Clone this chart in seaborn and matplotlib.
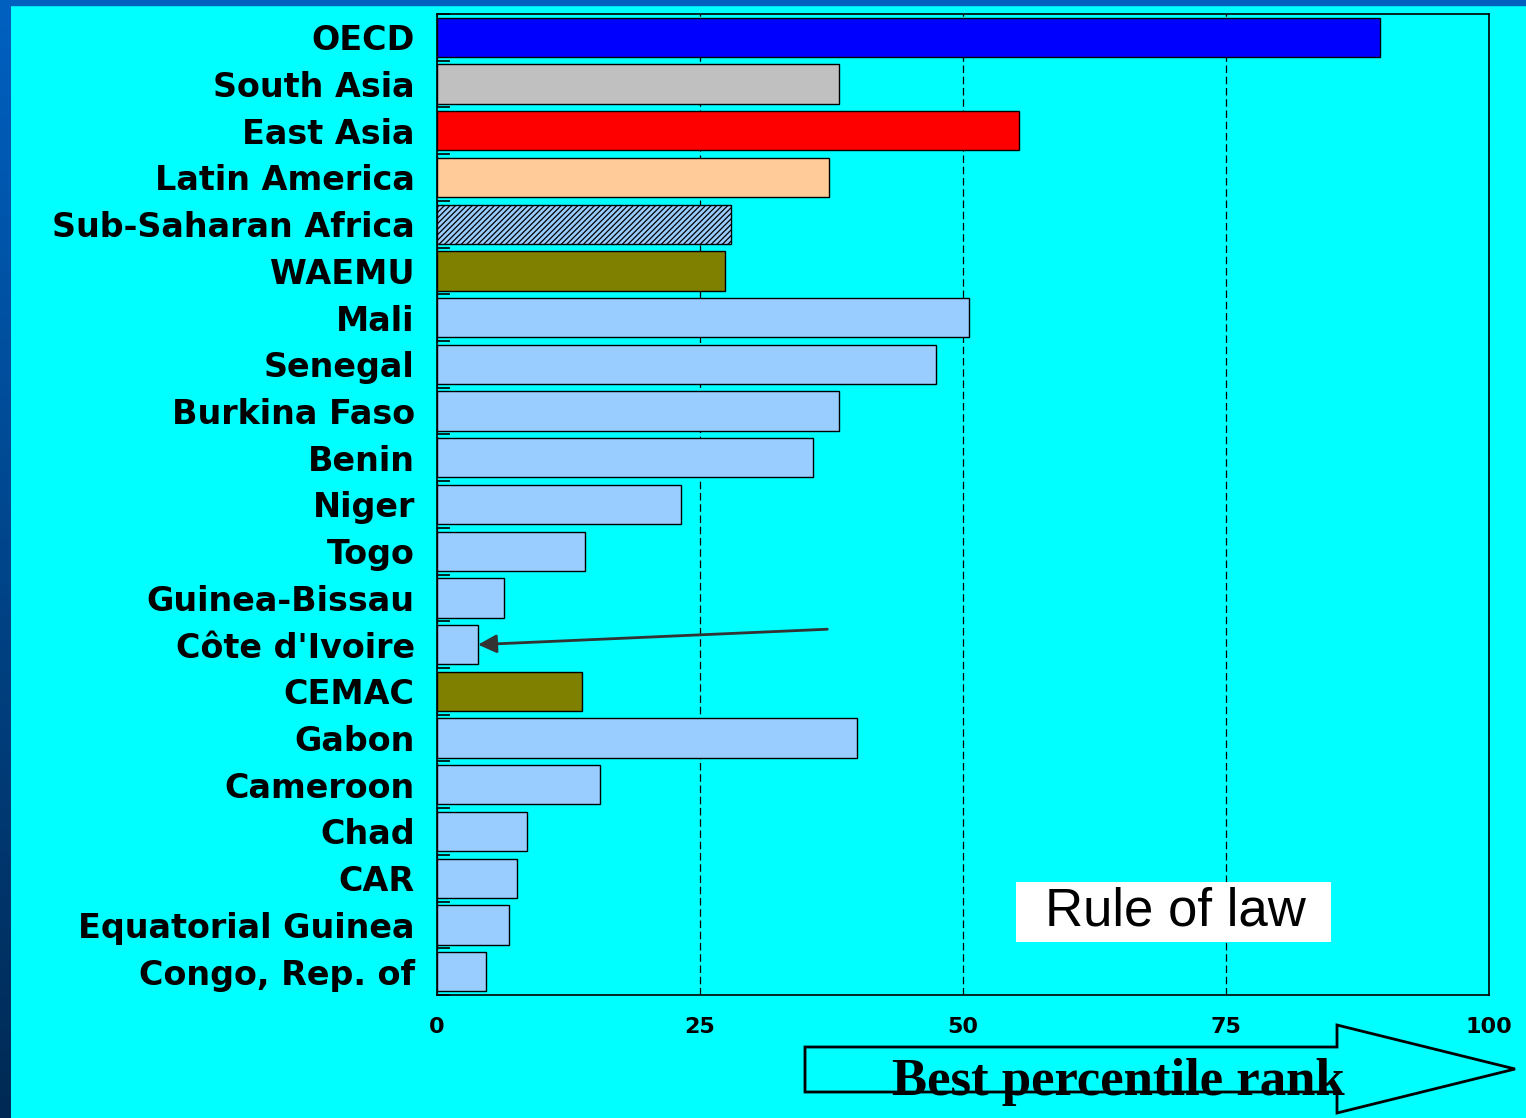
import numpy as np
import pandas as pd
import seaborn as sns
import matplotlib.pyplot as plt
from matplotlib.patches import Polygon, Rectangle

categories = ["OECD", "South Asia", "East Asia", "Latin America", "Sub-Saharan Africa",
              "WAEMU", "Mali", "Senegal", "Burkina Faso", "Benin", "Niger", "Togo",
              "Guinea-Bissau", "Côte d'Ivoire", "CEMAC", "Gabon", "Cameroon", "Chad",
              "CAR", "Equatorial Guinea", "Congo, Rep. of"]
values = [89.6, 38.2, 55.3, 37.3, 27.9, 27.4, 50.6, 47.4, 38.2, 35.7, 23.2, 14.1,
          6.4, 3.9, 13.8, 39.9, 15.5, 8.6, 7.6, 6.8, 4.7]
bar_colors = ["#0000FF", "#C0C0C0", "#FF0000", "#FFCC99", "#99CCFF", "#808000",
              "#99CCFF", "#99CCFF", "#99CCFF", "#99CCFF", "#99CCFF", "#99CCFF",
              "#99CCFF", "#99CCFF", "#808000", "#99CCFF", "#99CCFF", "#99CCFF",
              "#99CCFF", "#99CCFF", "#99CCFF"]
x_ticks = [0, 25, 50, 75, 100]

df = pd.DataFrame({"country": categories, "rank": values})

sns.set_theme(style="white")
plt.rcParams["font.family"] = ["DejaVu Sans"]
plt.rcParams["hatch.linewidth"] = 0.9
plt.rcParams["text.color"] = "black"
plt.rcParams["xtick.color"] = "black"
plt.rcParams["ytick.color"] = "black"

W, H = 1526, 1118
fig = plt.figure(figsize=(W / 100, H / 100), dpi=100, facecolor="#00FFFF")


def fx(px):
    return px / W


def fy(py):
    return 1 - py / H


ax = fig.add_axes([fx(437), fy(995), fx(1489) - fx(437), fy(14) - fy(995)])
ax.set_facecolor("#00FFFF")

sns.barplot(data=df, x="rank", y="country", hue="country",
            palette=dict(zip(categories, bar_colors)), legend=False, saturation=1,
            width=0.84, edgecolor="black", linewidth=1, orient="h", ax=ax)

# hatched Sub-Saharan Africa bar
ax.patches[categories.index("Sub-Saharan Africa")].set_hatch("//////")

ax.set_xlim(0, 100)
ax.set_ylim(len(categories) - 0.5, -0.5)
ax.set_xticks(x_ticks)
ax.set_xlabel("")
ax.set_ylabel("")
ax.grid(axis="x", color="black", linestyle=(0, (6, 3)), linewidth=0.9)
ax.set_axisbelow(True)
for s in ax.spines.values():
    s.set_visible(True)
    s.set_color("black")
    s.set_linewidth(1.2)

ax.tick_params(axis="x", length=0, pad=16, labelsize=16, labelcolor="black")
ax.tick_params(axis="y", which="major", length=0, pad=16, labelsize=24, labelcolor="black")
for lab in ax.get_xticklabels() + ax.get_yticklabels():
    lab.set_fontweight("bold")
ax.set_yticks(np.arange(-0.5, len(categories), 1), minor=True)
ax.tick_params(axis="y", which="minor", direction="in", length=9, width=1.2, color="black", left=True)

# pointer to Côte d'Ivoire
ax.annotate("", xy=(3.9, 13.0), xytext=(37.1, 12.67),
            arrowprops=dict(arrowstyle="-|>", color="#333333", lw=2, mutation_scale=28,
                            shrinkA=0, shrinkB=0))

# slide border strips
fig.add_artist(Rectangle((0, fy(5)), 1, fy(0) - fy(5), transform=fig.transFigure,
                         color="#0060C0", zorder=0))
grad_ax = fig.add_axes([0, 0, fx(11), fy(5)])
grad_ax.imshow(np.linspace(0, 1, 100).reshape(-1, 1), aspect="auto",
               cmap=sns.blend_palette(["#0060C0", "#002A55"], as_cmap=True))
grad_ax.axis("off")

# "Rule of law" box
fig.add_artist(Rectangle((fx(1016), fy(942)), fx(1331) - fx(1016), fy(882) - fy(942),
                         transform=fig.transFigure, facecolor="white", edgecolor="none"))
fig.text(fx(1175), fy(912), "Rule of law", family="Liberation Sans", fontsize=38,
         ha="center", va="center", color="black")

# block arrow
pts = [(805, 1047), (1337, 1047), (1337, 1025), (1515, 1069), (1337, 1113),
       (1337, 1092), (805, 1092)]
fig.add_artist(Polygon([(fx(a), fy(b)) for a, b in pts], closed=True,
                       transform=fig.transFigure, facecolor="none",
                       edgecolor="black", linewidth=2))
fig.text(fx(1118), fy(1095), "Best percentile rank", family="Liberation Serif",
         fontweight="bold", fontsize=38, ha="center", va="baseline", color="black")

fig.savefig("out.png", dpi=100, facecolor=fig.get_facecolor())
